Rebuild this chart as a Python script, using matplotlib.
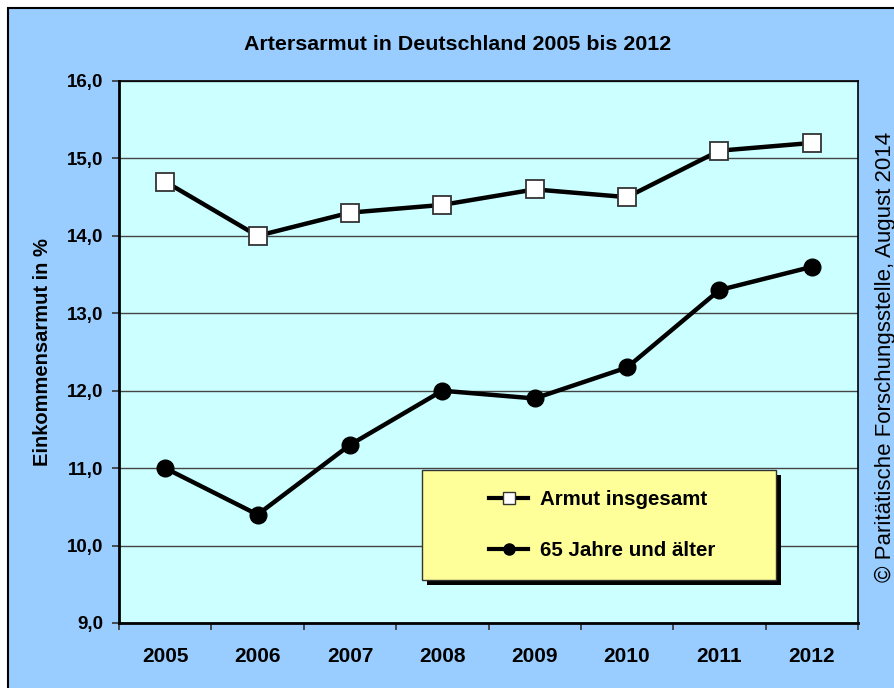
import matplotlib
matplotlib.use("Agg")
import matplotlib.pyplot as plt
from matplotlib.patches import Rectangle
from matplotlib.lines import Line2D

plt.rcParams['font.family'] = ['Liberation Sans', 'DejaVu Sans']

years = ['2005', '2006', '2007', '2008', '2009', '2010', '2011', '2012']
armut_insgesamt = [14.7, 14.0, 14.3, 14.4, 14.6, 14.5, 15.1, 15.2]
armut_65plus = [11.0, 10.4, 11.3, 12.0, 11.9, 12.3, 13.3, 13.6]
yticks = [9, 10, 11, 12, 13, 14, 15, 16]
ytick_labels = ['9,0', '10,0', '11,0', '12,0', '13,0', '14,0', '15,0', '16,0']

W, H = 894, 688
fig = plt.figure(figsize=(W / 100, H / 100), dpi=100)
fig.patch.set_facecolor('white')

def fx(px):
    return px / W

def fy(py):
    return 1 - py / H

# outer chart area
fig.patches.append(Rectangle((fx(8), -0.02), 1.05, fy(8) + 0.02, transform=fig.transFigure,
                             facecolor='#99CCFF', edgecolor='black', linewidth=1.5, zorder=-5))

ax = fig.add_axes([fx(119), fy(623), fx(858) - fx(119), fy(81) - fy(623)])
ax.set_zorder(1)
ax.set_facecolor('#CCFFFF')

x = list(range(len(years)))
ax.plot(x, armut_insgesamt, color='black', linewidth=3.2, marker='s', markersize=12.5,
        markerfacecolor='white', markeredgecolor='#333333', markeredgewidth=1.3,
        label='Armut insgesamt', zorder=3, clip_on=False)
ax.plot(x, armut_65plus, color='black', linewidth=3.2, marker='o', markersize=12,
        markerfacecolor='black', markeredgecolor='black',
        label='65 Jahre und älter', zorder=3, clip_on=False)

ax.set_xlim(-0.5, len(years) - 0.5)
ax.set_ylim(9, 16)
ax.set_yticks(yticks)
ax.set_yticklabels(ytick_labels, fontsize=13.5, fontweight='bold')
ax.set_xticks([i - 0.5 for i in range(len(years) + 1)])
ax.set_xticklabels([])
ax.set_xticks(x, minor=True)
ax.set_xticklabels(years, minor=True, fontsize=15, fontweight='bold')
ax.tick_params(axis='x', which='major', direction='out', length=5, width=1.2, color='#333333')
ax.tick_params(axis='x', which='minor', length=0, pad=17)
ax.tick_params(axis='y', direction='out', length=5, width=1.2, color='#333333', pad=6)

ax.yaxis.grid(True, color='#444444', linewidth=1.0)
ax.set_axisbelow(True)
for s in ['left', 'bottom']:
    ax.spines[s].set_linewidth(2.0)
for s in ['top', 'right']:
    ax.spines[s].set_linewidth(1.2)

ax.set_ylabel('Einkommensarmut in %', fontsize=14.5, fontweight='bold', labelpad=11)

fig.text(fx(458), fy(45), 'Artersarmut in Deutschland 2005 bis 2012', ha='center', va='center',
         fontsize=15.4, fontweight='bold')
fig.text(fx(885), fy(357), '© Paritätische Forschungsstelle, August 2014', rotation=90,
         ha='center', va='center', fontsize=16)

# legend box with shadow
bx0, by0, bx1, by1 = 422, 470, 776, 580
fig.patches.append(Rectangle((fx(bx0 + 5), fy(by1 + 5)), fx(bx1) - fx(bx0), fy(by0) - fy(by1),
                             transform=fig.transFigure, facecolor='black', edgecolor='none', zorder=4))
fig.patches.append(Rectangle((fx(bx0), fy(by1)), fx(bx1) - fx(bx0), fy(by0) - fy(by1),
                             transform=fig.transFigure, facecolor='#FFFF99', edgecolor='#333333',
                             linewidth=1.0, zorder=5))
handles = [
    Line2D([], [], color='black', linewidth=3, marker='s', markersize=8,
           markerfacecolor='white', markeredgecolor='#333333', markeredgewidth=1.0),
    Line2D([], [], color='black', linewidth=3, marker='o', markersize=8,
           markerfacecolor='black', markeredgecolor='black'),
]
leg = fig.legend(handles, ['Armut insgesamt', '65 Jahre und älter'], loc='center',
                 bbox_to_anchor=(fx(602), fy(525)), frameon=False,
                 prop={'size': 14.8, 'weight': 'bold'}, handlelength=1.9,
                 labelspacing=1.55, handletextpad=0.55)
leg.set_zorder(6)

fig.savefig('out.png', dpi=100, facecolor=fig.get_facecolor())
